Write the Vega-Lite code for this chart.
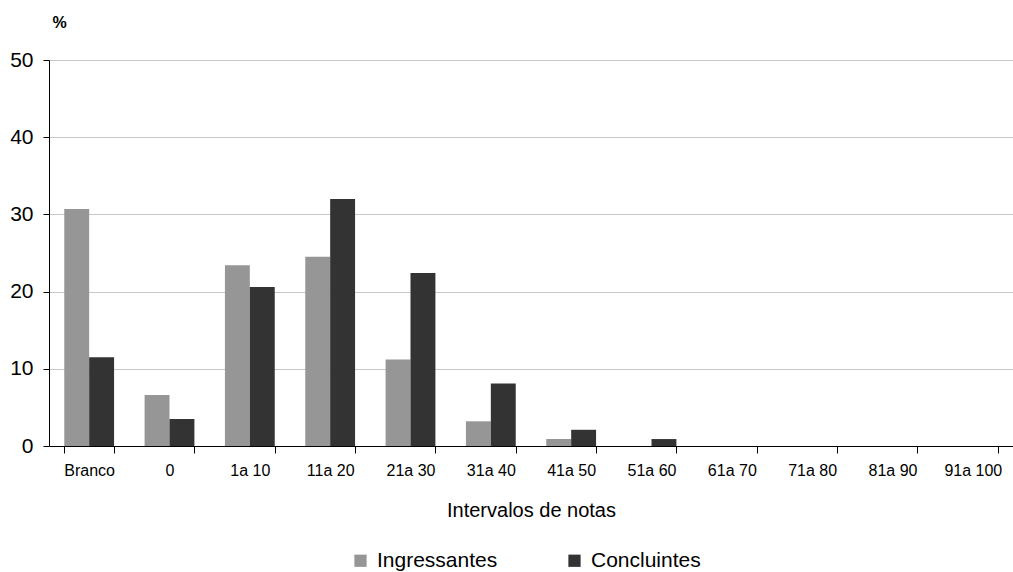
{
  "$schema": "https://vega.github.io/schema/vega-lite/v6.json",
  "width": 964,
  "height": 386,
  "autosize": {"type": "none"},
  "padding": {"left": 49, "top": 60, "right": 0, "bottom": 126},
  "background": "white",
  "config": {
    "font": "Liberation Sans",
    "view": {"stroke": null},
    "axis": {"labelFont": "Liberation Sans", "titleFont": "Liberation Sans"}
  },
  "data": {
    "values": [
      {"cat": "Branco", "serie": "Ingressantes", "v": 30.7},
      {"cat": "Branco", "serie": "Concluintes", "v": 11.5},
      {"cat": "0", "serie": "Ingressantes", "v": 6.6},
      {"cat": "0", "serie": "Concluintes", "v": 3.5},
      {"cat": "1a 10", "serie": "Ingressantes", "v": 23.4},
      {"cat": "1a 10", "serie": "Concluintes", "v": 20.6},
      {"cat": "11a 20", "serie": "Ingressantes", "v": 24.5},
      {"cat": "11a 20", "serie": "Concluintes", "v": 32.0},
      {"cat": "21a 30", "serie": "Ingressantes", "v": 11.2},
      {"cat": "21a 30", "serie": "Concluintes", "v": 22.4},
      {"cat": "31a 40", "serie": "Ingressantes", "v": 3.2},
      {"cat": "31a 40", "serie": "Concluintes", "v": 8.1},
      {"cat": "41a 50", "serie": "Ingressantes", "v": 0.9},
      {"cat": "41a 50", "serie": "Concluintes", "v": 2.1},
      {"cat": "51a 60", "serie": "Ingressantes", "v": 0},
      {"cat": "51a 60", "serie": "Concluintes", "v": 0.9},
      {"cat": "61a 70", "serie": "Ingressantes", "v": 0},
      {"cat": "61a 70", "serie": "Concluintes", "v": 0},
      {"cat": "71a 80", "serie": "Ingressantes", "v": 0},
      {"cat": "71a 80", "serie": "Concluintes", "v": 0},
      {"cat": "81a 90", "serie": "Ingressantes", "v": 0},
      {"cat": "81a 90", "serie": "Concluintes", "v": 0},
      {"cat": "91a 100", "serie": "Ingressantes", "v": 0},
      {"cat": "91a 100", "serie": "Concluintes", "v": 0}
    ]
  },
  "mark": {"type": "bar"},
  "encoding": {
    "x": {
      "field": "cat",
      "type": "nominal",
      "sort": null,
      "scale": {"paddingInner": 0.38, "paddingOuter": 0.19},
      "axis": {
        "title": "Intervalos de notas",
        "titleFontSize": 20,
        "titleFontWeight": "normal",
        "titleColor": "#000",
        "titlePadding": 22,
        "labelAngle": 0,
        "labelFontSize": 16,
        "labelColor": "#000",
        "labelPadding": 9,
        "tickBand": "extent",
        "tickColor": "#000",
        "tickSize": 7,
        "domainColor": "#000",
        "grid": false
      }
    },
    "xOffset": {"field": "serie", "type": "nominal", "sort": ["Ingressantes", "Concluintes"]},
    "y": {
      "field": "v",
      "type": "quantitative",
      "scale": {"domain": [0, 50]},
      "axis": {
        "title": "%",
        "titleAngle": 0,
        "titleX": 3,
        "titleY": -30,
        "titleAlign": "left",
        "titleFontSize": 16,
        "titleFontWeight": "bold",
        "titleColor": "#000",
        "values": [0, 10, 20, 30, 40, 50],
        "labelFontSize": 21,
        "labelColor": "#000",
        "labelPadding": 10,
        "tickColor": "#000",
        "tickSize": 6,
        "domainColor": "#000",
        "gridColor": "#c8c8c8"
      }
    },
    "color": {
      "field": "serie",
      "type": "nominal",
      "sort": ["Ingressantes", "Concluintes"],
      "scale": {"domain": ["Ingressantes", "Concluintes"], "range": ["#969696", "#333333"]},
      "legend": {
        "title": null,
        "orient": "none",
        "legendX": 301,
        "legendY": 490,
        "direction": "horizontal",
        "symbolType": "square",
        "symbolSize": 150,
        "symbolStrokeWidth": 0,
        "symbolOffset": 0,
        "labelOffset": 6,
        "labelFontSize": 21,
        "labelColor": "#000",
        "columnPadding": 66
      }
    }
  }
}
